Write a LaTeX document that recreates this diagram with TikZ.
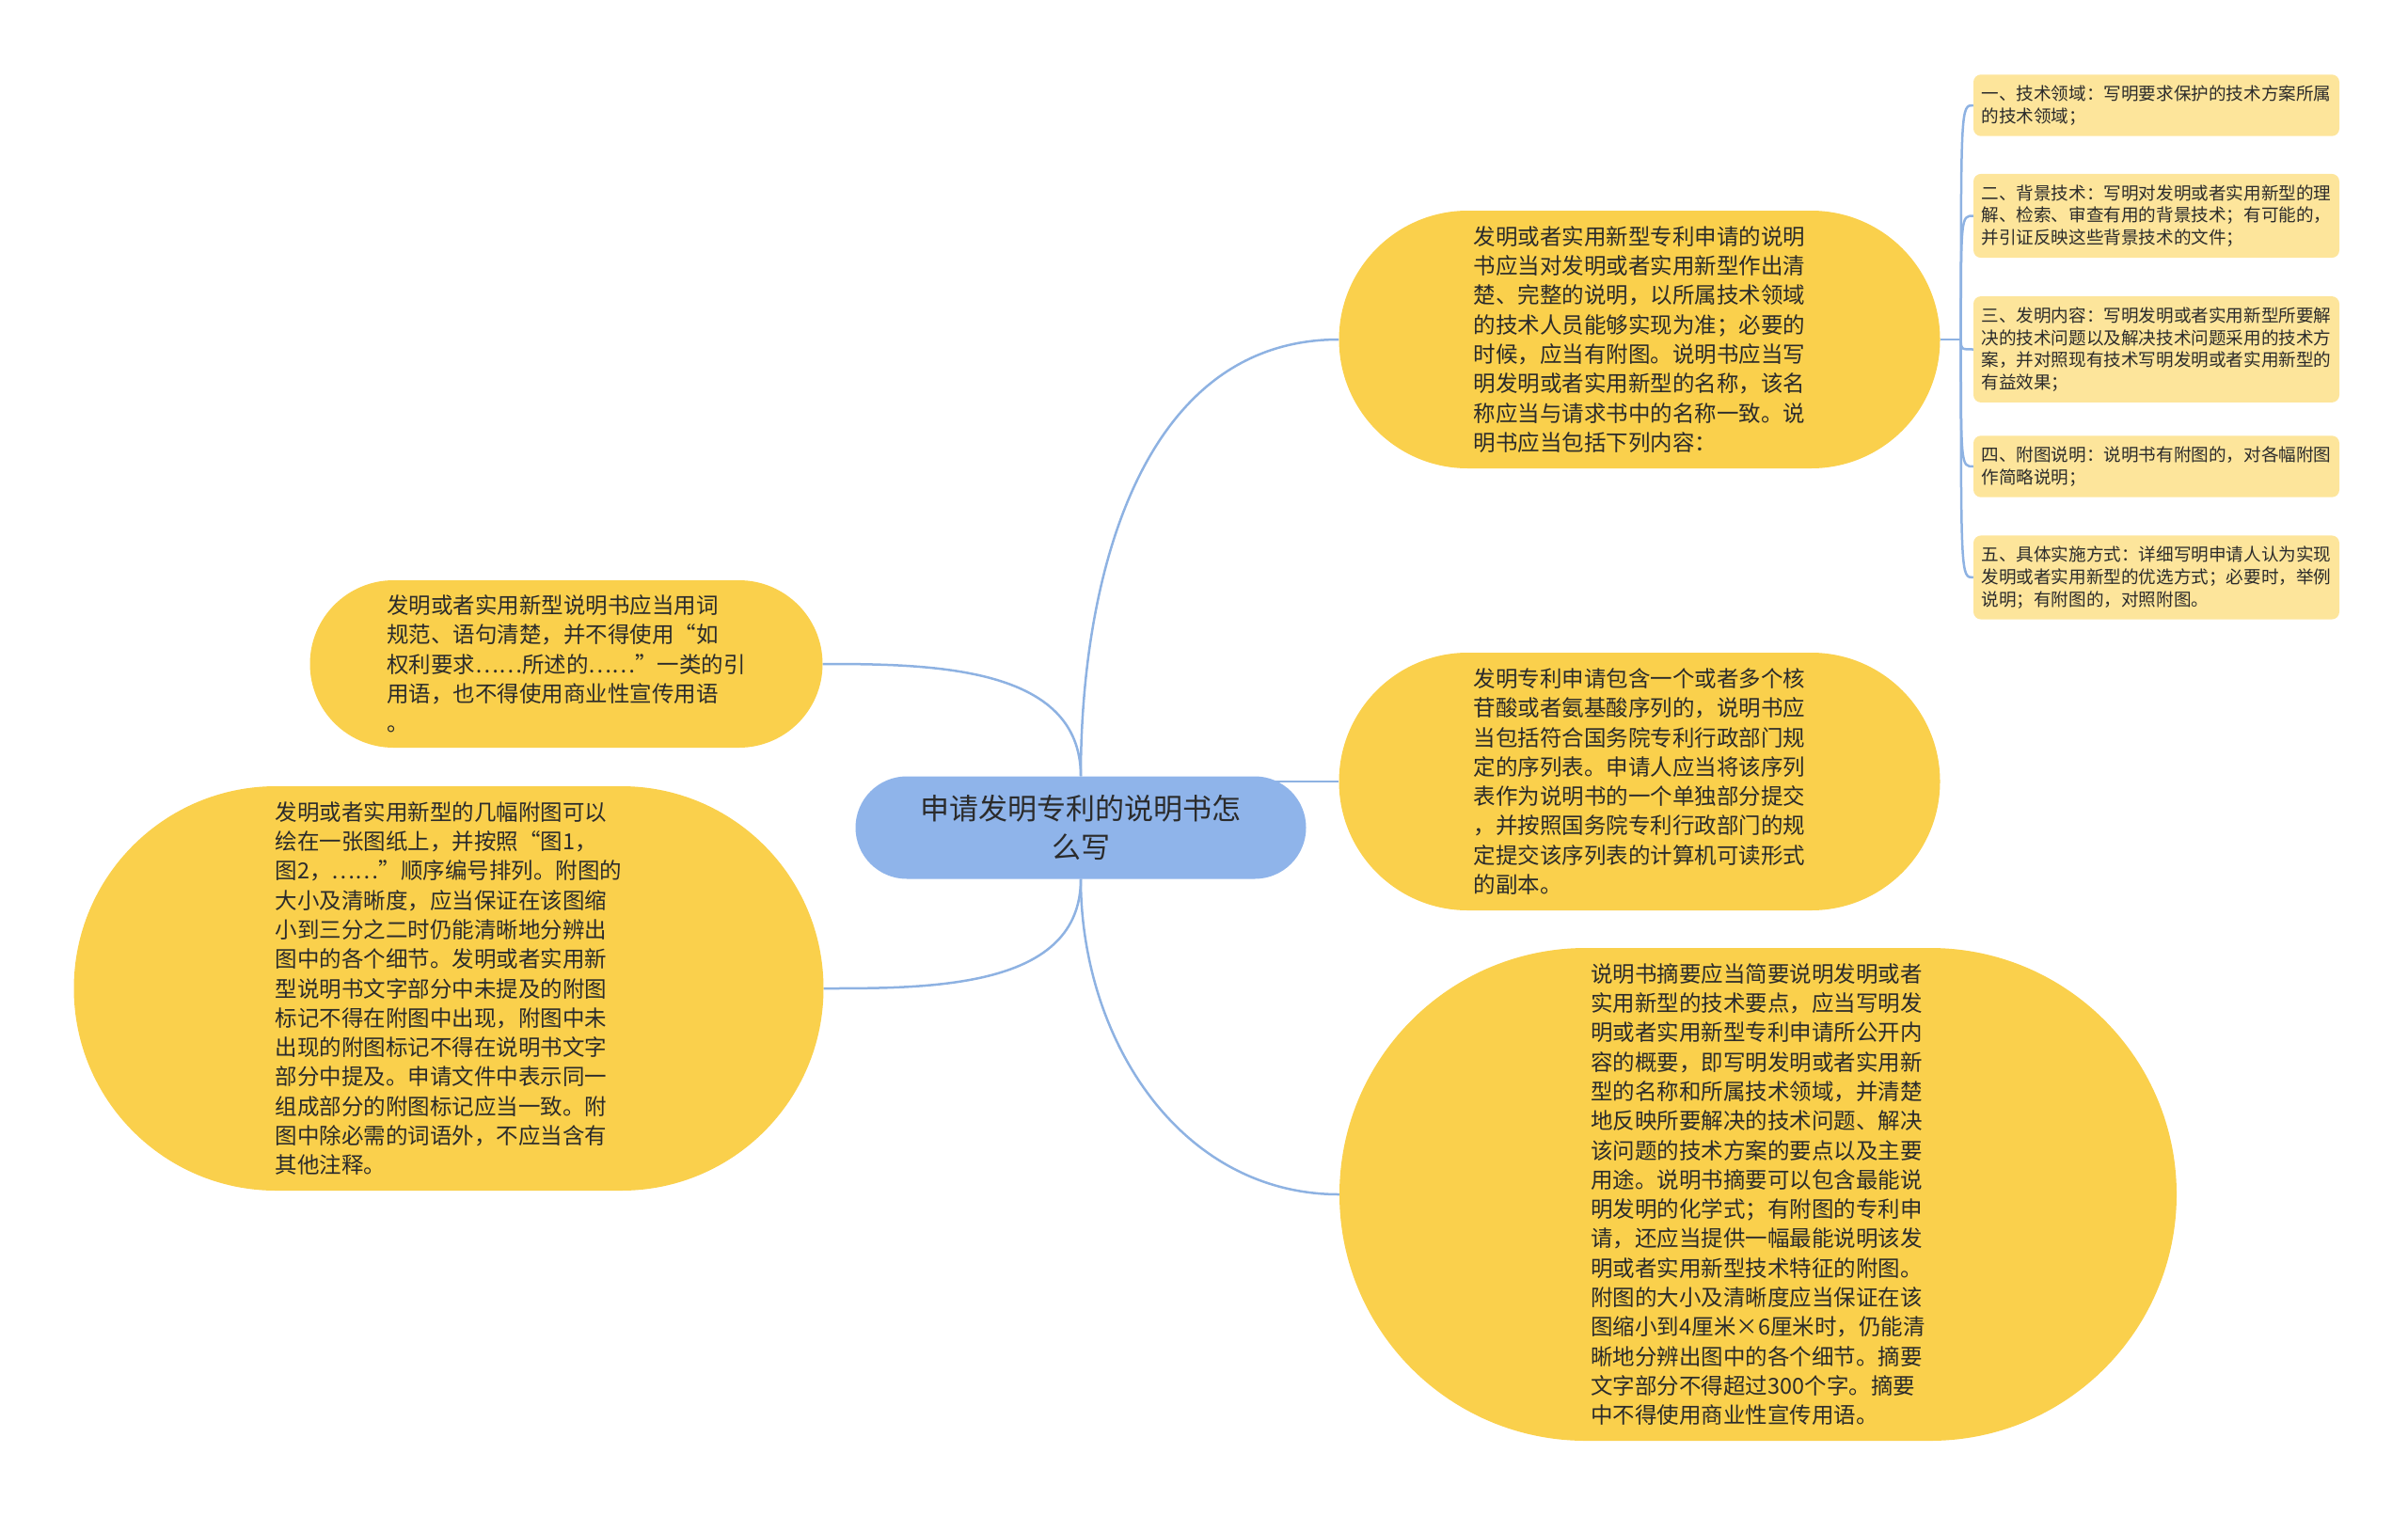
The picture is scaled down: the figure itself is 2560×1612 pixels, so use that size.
\documentclass[tikz,border=0pt]{standalone}
\usepackage{fontspec}
\setmainfont{Noto Sans CJK SC}
\usetikzlibrary{backgrounds}
\definecolor{topicyellow}{HTML}{FAD04C}
\definecolor{leafyellow}{HTML}{FDE59B}
\definecolor{rootblue}{HTML}{8FB4EA}
\definecolor{linkblue}{HTML}{8EB2E2}
\definecolor{inkgray}{HTML}{2B2B2B}
\tikzset{bubble/.style 2 args={fill=topicyellow,text=inkgray,align=left,inner sep=0pt,minimum width=#1,minimum height=#2,rounded corners=#2/2,font=\fontsize{23.5}{31.3}\selectfont}}
\tikzset{part/.style={fill=leafyellow,text=inkgray,align=left,rounded corners=8pt,minimum width=389pt,inner xsep=8pt,inner ysep=11.5pt,font=\fontsize{18.6}{23.7}\selectfont}}
\tikzset{link/.style={draw=linkblue,line width=2.5pt}}

\begin{document}
\begin{tikzpicture}[x=1pt,y=-1pt]
  \useasboundingbox (0,0) rectangle (2560,1612);
  \node[bubble={479pt}{109pt},fill=rootblue,align=center,font=\fontsize{31}{41}\selectfont] (root) at (1149,880) {申请发明专利的说明书怎\\么写};
  \node[bubble={639pt}{274pt}] (spec) at (1743,361) {发明或者实用新型专利申请的说明\\书应当对发明或者实用新型作出清\\楚、完整的说明，以所属技术领域\\的技术人员能够实现为准；必要的\\时候，应当有附图。说明书应当写\\明发明或者实用新型的名称，该名\\称应当与请求书中的名称一致。说\\明书应当包括下列内容：};
  \node[bubble={639pt}{274pt}] (seq) at (1743,831) {发明专利申请包含一个或者多个核\\苷酸或者氨基酸序列的，说明书应\\当包括符合国务院专利行政部门规\\定的序列表。申请人应当将该序列\\表作为说明书的一个单独部分提交\\，并按照国务院专利行政部门的规\\定提交该序列表的计算机可读形式\\的副本。};
  \node[bubble={890pt}{524pt}] (abs) at (1869,1270) {说明书摘要应当简要说明发明或者\\实用新型的技术要点，应当写明发\\明或者实用新型专利申请所公开内\\容的概要，即写明发明或者实用新\\型的名称和所属技术领域，并清楚\\地反映所要解决的技术问题、解决\\该问题的技术方案的要点以及主要\\用途。说明书摘要可以包含最能说\\明发明的化学式；有附图的专利申\\请，还应当提供一幅最能说明该发\\明或者实用新型技术特征的附图。\\附图的大小及清晰度应当保证在该\\图缩小到4厘米×6厘米时，仍能清\\晰地分辨出图中的各个细节。摘要\\文字部分不得超过300个字。摘要\\中不得使用商业性宣传用语。};
  \node[bubble={545pt}{178pt}] (words) at (602,706) {发明或者实用新型说明书应当用词\\规范、语句清楚，并不得使用“如\\权利要求……所述的……”一类的引\\用语，也不得使用商业性宣传用语\\。};
  \node[bubble={797pt}{430pt}] (figs) at (477,1051) {发明或者实用新型的几幅附图可以\\绘在一张图纸上，并按照“图1，\\图2，……”顺序编号排列。附图的\\大小及清晰度，应当保证在该图缩\\小到三分之二时仍能清晰地分辨出\\图中的各个细节。发明或者实用新\\型说明书文字部分中未提及的附图\\标记不得在附图中出现，附图中未\\出现的附图标记不得在说明书文字\\部分中提及。申请文件中表示同一\\组成部分的附图标记应当一致。附\\图中除必需的词语外，不应当含有\\其他注释。};
  \node[part] (p1) at (2292.5,112) {一、技术领域：写明要求保护的技术方案所属\\的技术领域；};
  \node[part] (p2) at (2292.5,229.5) {二、背景技术：写明对发明或者实用新型的理\\解、检索、审查有用的背景技术；有可能的，\\并引证反映这些背景技术的文件；};
  \node[part] (p3) at (2292.5,371.5) {三、发明内容：写明发明或者实用新型所要解\\决的技术问题以及解决技术问题采用的技术方\\案，并对照现有技术写明发明或者实用新型的\\有益效果；};
  \node[part] (p4) at (2292.5,496) {四、附图说明：说明书有附图的，对各幅附图\\作简略说明；};
  \node[part] (p5) at (2292.5,614) {五、具体实施方式：详细写明申请人认为实现\\发明或者实用新型的优选方式；必要时，举例\\说明；有附图的，对照附图。};
  \begin{scope}[on background layer]
    \draw[link] (root.north) to[out=90,in=180] (spec.west);
    \draw[link] (seq.west) -- (seq.west -| root.center);
    \draw[link] (root.south) to[out=-90,in=180] (abs.west);
    \draw[link] (words.east) to[out=0,in=90] (root.north);
    \draw[link] (figs.east) to[out=0,in=-90] (root.south);
    \draw[link] (spec.east) -- ++(22,0) coordinate (hub);
    \foreach \k in {1,...,5}
      \draw[link] (hub) .. controls (hub |- p\k.west) .. (p\k.west);
  \end{scope}
\end{tikzpicture}
\end{document}
